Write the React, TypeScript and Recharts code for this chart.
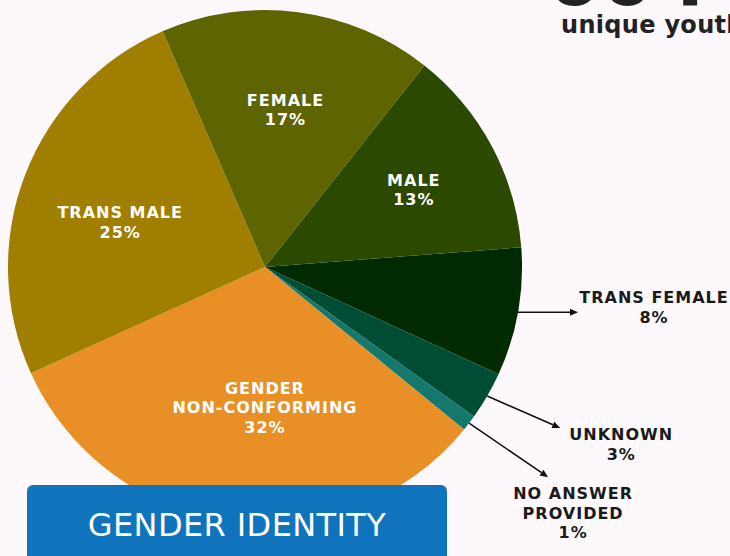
import { Pie, PieChart, Cell } from "recharts";

const categories = [
  "TRANS FEMALE",
  "UNKNOWN",
  "NO ANSWER\nPROVIDED",
  "GENDER\nNON-CONFORMING",
  "TRANS MALE",
  "FEMALE",
  "MALE",
];
const shares = [8, 3, 1, 32, 25, 17, 13];
const colors = ["#002a00", "#004d35", "#14786c", "#e89025", "#a07e00", "#5e6400", "#2b4a00"];

const data = categories.map((name, i) => ({ name, value: shares[i] }));

// label placement per slice: inside labels sit on a radius, outside ones get an arrow
const labelLayout: any[] = [
  { kind: "out", arrow: [60, 0], text: [76, -15] },
  { kind: "out", arrow: [73, 32], text: [61, 6] },
  { kind: "out", arrow: [79, 54], text: [25, 16] },
  { kind: "in", r: 0.545, da: 7.4 },
  { kind: "in", r: 0.59, da: 3.8 },
  { kind: "in", r: 0.618, da: 0 },
  { kind: "in", r: 0.653, da: -0.5 },
];

const RAD = Math.PI / 180;
const FONT = "'DejaVu Sans', sans-serif";
const LINE = 19.5;

function renderLabel(props: any) {
  const { cx, cy, midAngle, outerRadius, index, value } = props;
  const lay = labelLayout[index];
  const lines = [...categories[index].split("\n"), `${value}%`];
  if (lay.kind === "in") {
    const a = (midAngle + lay.da) * RAD;
    const x = cx + outerRadius * lay.r * Math.cos(a);
    const y = cy - outerRadius * lay.r * Math.sin(a);
    const top = y - ((lines.length - 1) * LINE) / 2;
    return (
      <text
        key={`l${index}`}
        fill="#fff"
        fontFamily={FONT}
        fontWeight="bold"
        fontSize={16}
        letterSpacing={1}
        textAnchor="middle"
        dominantBaseline="central"
      >
        {lines.map((t, i) => (
          <tspan key={i} x={x} y={top + i * LINE}>
            {t}
          </tspan>
        ))}
      </text>
    );
  }
  const a = midAngle * RAD;
  const sx = cx + outerRadius * Math.cos(a);
  const sy = cy - outerRadius * Math.sin(a);
  const ex = sx + lay.arrow[0];
  const ey = sy + lay.arrow[1];
  const len = Math.hypot(lay.arrow[0], lay.arrow[1]);
  const ux = lay.arrow[0] / len;
  const uy = lay.arrow[1] / len;
  const hl = 8;
  const hw = 3.5;
  const bx = ex - ux * hl;
  const by = ey - uy * hl;
  const tx = ex + lay.text[0];
  const ty = ey + lay.text[1];
  return (
    <g key={`l${index}`}>
      <line x1={sx} y1={sy} x2={bx} y2={by} stroke="#111" strokeWidth={1.6} />
      <polygon
        points={`${ex},${ey} ${bx - uy * hw},${by + ux * hw} ${bx + uy * hw},${by - ux * hw}`}
        fill="#111"
      />
      <text
        fill="#1a1a1a"
        fontFamily={FONT}
        fontWeight="bold"
        fontSize={16}
        letterSpacing={1}
        textAnchor="middle"
        dominantBaseline="central"
      >
        {lines.map((t, i) => (
          <tspan key={i} x={tx} y={ty + i * LINE}>
            {t}
          </tspan>
        ))}
      </text>
    </g>
  );
}

export default function App() {
  return (
    <div
      style={{
        position: "fixed",
        left: 0,
        top: 0,
        width: 730,
        height: 556,
        background: "#fcf8fc",
        overflow: "hidden",
      }}
    >
      <PieChart width={730} height={556} margin={{ top: 0, right: 0, bottom: 0, left: 0 }}>
        <Pie
          data={data}
          dataKey="value"
          nameKey="name"
          cx={265}
          cy={267}
          outerRadius={257}
          startAngle={4.4}
          endAngle={-355.6}
          stroke="none"
          label={renderLabel}
          labelLine={false}
          isAnimationActive={false}
        >
          {data.map((d, i) => (
            <Cell key={d.name} fill={colors[i]} />
          ))}
        </Pie>
      </PieChart>
      <svg
        width={730}
        height={556}
        style={{ position: "absolute", left: 0, top: 0, pointerEvents: "none" }}
      >
        <text x={546} y={5} fontFamily={FONT} fontWeight="bold" fontSize={78} fill="#222">
          604
        </text>
        <text x={561} y={33} fontFamily={FONT} fontWeight="bold" fontSize={24} fill="#222" letterSpacing={0.3}>
          unique youth
        </text>
        <rect x={27} y={485} width={420} height={90} rx={6} fill="#1074bc" />
        <text
          x={237}
          y={525}
          fontFamily={FONT}
          fontSize={32}
          fill="#fff"
          textAnchor="middle"
          dominantBaseline="central"
          letterSpacing={0.4}
        >
          GENDER IDENTITY
        </text>
      </svg>
    </div>
  );
}
